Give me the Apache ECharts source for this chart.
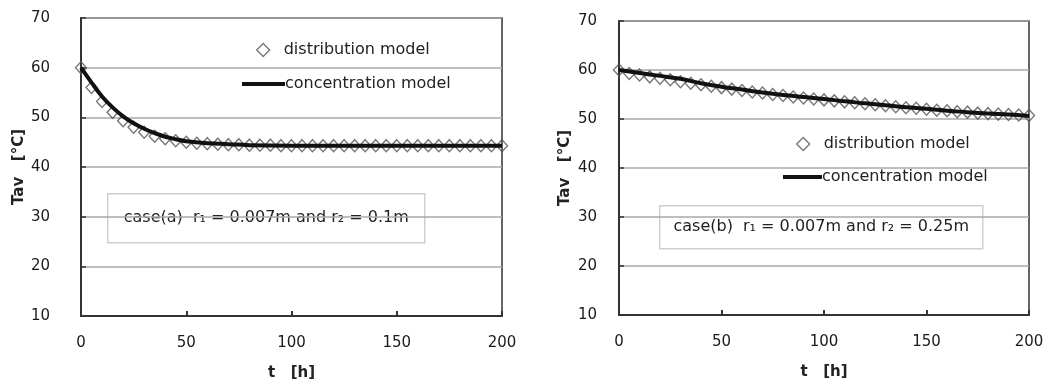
<!DOCTYPE html>
<html>
<head>
<meta charset="utf-8">
<script src="https://cdn.jsdelivr.net/npm/echarts@6/dist/echarts.min.js"></script>
<style>
  html, body { margin: 0; padding: 0; background: #fff; }
  #chart { width: 1056px; height: 389px; }
</style>
</head>
<body>
<div id="chart"></div>
<script>
// time points of the distribution model markers (h)
var tMarks = [0, 5, 10, 15, 20, 25, 30, 35, 40, 45, 50, 55, 60, 65, 70, 75, 80, 85, 90, 95,
  100, 105, 110, 115, 120, 125, 130, 135, 140, 145, 150, 155, 160, 165, 170, 175, 180, 185, 190, 195, 200];

// case (a): distribution model (markers)
var distA = [60.0, 56.0, 53.2, 51.0, 49.3, 48.0, 47.0, 46.2, 45.7, 45.3, 45.0, 44.8, 44.7, 44.6, 44.5, 44.5, 44.4, 44.4, 44.4, 44.3,
  44.3, 44.3, 44.3, 44.3, 44.3, 44.3, 44.3, 44.3, 44.3, 44.3, 44.3, 44.3, 44.3, 44.3, 44.3, 44.3, 44.3, 44.3, 44.3, 44.3, 44.3];
// case (a): concentration model (line)
var tLineA = [0, 5, 10, 15, 20, 25, 30, 35, 40, 45, 50, 60, 70, 80, 100, 150, 200];
var concA = [60.0, 57.0, 54.2, 52.0, 50.2, 48.8, 47.7, 46.8, 46.1, 45.6, 45.2, 44.8, 44.6, 44.4, 44.3, 44.3, 44.3];

// case (b): distribution model (markers)
var distB = [60.0, 59.3, 59.0, 58.6, 58.3, 58.0, 57.6, 57.3, 57.0, 56.7, 56.4, 56.1, 55.8, 55.5, 55.3, 55.0, 54.8, 54.5, 54.3, 54.1,
  53.9, 53.7, 53.5, 53.3, 53.1, 52.9, 52.7, 52.5, 52.3, 52.2, 52.0, 51.8, 51.7, 51.5, 51.4, 51.2, 51.1, 51.0, 50.9, 50.8, 50.7];
// case (b): concentration model (line)
var tLineB = [0, 10, 20, 30, 40, 50, 60, 70, 80, 90, 100, 110, 120, 130, 140, 150, 160, 170, 180, 190, 200];
var concB = [60.0, 59.4, 58.8, 58.2, 57.3, 56.6, 56.0, 55.4, 54.9, 54.5, 54.1, 53.6, 53.2, 52.8, 52.4, 52.1, 51.7, 51.4, 51.1, 50.9, 50.6];

var xTicks = [0, 50, 100, 150, 200];
var yTicks = [10, 20, 30, 40, 50, 60, 70];

function pairs(xs, ys) {
  return xs.map(function (x, i) { return [x, ys[i]]; });
}

var FONT = 'DejaVu Sans';
var chart = echarts.init(document.getElementById('chart'));

function xAxis(idx) {
  return {
    gridIndex: idx,
    type: 'value',
    min: xTicks[0], max: xTicks[xTicks.length - 1], interval: 50,
    name: 't   [h]',
    nameLocation: 'middle',
    nameGap: 50,
    nameTextStyle: { fontFamily: FONT, fontSize: 15, fontWeight: 'bold', color: '#222' },
    axisLine: { lineStyle: { color: '#333', width: 2 } },
    axisTick: { inside: true, length: 5, lineStyle: { color: '#333', width: 2 } },
    axisLabel: { margin: 20, fontFamily: FONT, fontSize: 15, color: '#1a1a1a' },
    splitLine: { show: false }
  };
}

function yAxis(idx, margin) {
  return {
    gridIndex: idx,
    type: 'value',
    min: yTicks[0], max: yTicks[yTicks.length - 1], interval: 10,
    name: 'Tav   [°C]',
    nameLocation: 'middle',
    nameGap: 46,
    nameRotate: 90,
    nameTextStyle: { fontFamily: FONT, fontSize: 15, fontWeight: 'bold', color: '#222' },
    axisLine: { show: true, lineStyle: { color: '#333', width: 2 } },
    axisTick: { inside: true, length: 5, lineStyle: { color: '#333', width: 1.5 } },
    axisLabel: { margin: margin, fontFamily: FONT, fontSize: 15, color: '#1a1a1a' },
    splitLine: { show: true, lineStyle: { color: '#a8a8a8', width: 1.5 } }
  };
}

var markerStyle = { color: 'rgba(255,255,255,0)', borderColor: '#555', borderWidth: 1.4 };

function distSeries(idx, data) {
  return {
    name: 'distribution model',
    type: 'scatter',
    xAxisIndex: idx, yAxisIndex: idx,
    symbol: 'diamond',
    symbolSize: [11, 12],
    itemStyle: markerStyle,
    data: data,
    z: 2
  };
}

function concSeries(idx, data) {
  return {
    name: 'concentration model',
    type: 'line',
    xAxisIndex: idx, yAxisIndex: idx,
    smooth: 0.4,
    showSymbol: false,
    lineStyle: { color: '#111', width: 4 },
    itemStyle: { color: '#111' },
    data: data,
    z: 3
  };
}

function legends(dLeft, dTop, lLeft, lTop, lWidth) {
  var ts = { fontFamily: FONT, fontSize: 16, color: '#222' };
  return [{
    left: dLeft, top: dTop,
    itemWidth: 13, itemHeight: 13,
    selectedMode: false,
    data: [{ name: 'distribution model', icon: 'diamond',
      itemStyle: { color: '#fff', borderColor: '#555', borderWidth: 1.4 } }],
    textStyle: Object.assign({ padding: [0, 0, 0, 9] }, ts)
  }, {
    left: lLeft, top: lTop,
    itemWidth: lWidth, itemHeight: 4,
    selectedMode: false,
    data: [{ name: 'concentration model', icon: 'rect', itemStyle: { color: '#111' } }],
    textStyle: Object.assign({ padding: [0, 0, 0, -5] }, ts)
  }];
}

function noteBox(x, y, w, h, text) {
  return {
    type: 'group',
    left: x, top: y,
    children: [{
      type: 'rect',
      shape: { x: 0, y: 0, width: w, height: h },
      style: { fill: '#fff', stroke: '#cfcfcf', lineWidth: 1.5 }
    }, {
      type: 'text',
      x: w / 2, y: h / 2,
      style: {
        text: text,
        fontFamily: FONT, fontSize: 16, fill: '#222',
        align: 'center', verticalAlign: 'middle'
      }
    }]
  };
}

chart.setOption({
  animation: false,
  backgroundColor: '#fff',
  grid: [
    { left: 81, top: 18, width: 421, height: 298, show: true, borderColor: '#333', borderWidth: 1.5 },
    { left: 619, top: 21, width: 410, height: 294, show: true, borderColor: '#333', borderWidth: 1.5 }
  ],
  xAxis: [xAxis(0), xAxis(1)],
  yAxis: [yAxis(0, 31), yAxis(1, 22)],
  legend: legends(251, 37, 237, 71, 43).concat(legends(791, 131, 778, 164, 39)),
  graphic: [
    noteBox(107, 193, 317, 49, 'case(a)  r\u2081 = 0.007m and r\u2082 = 0.1m'),
    noteBox(659, 205, 323, 43, 'case(b)  r\u2081 = 0.007m and r\u2082 = 0.25m')
  ],
  series: [
    distSeries(0, pairs(tMarks, distA)),
    concSeries(0, pairs(tLineA, concA)),
    distSeries(1, pairs(tMarks, distB)),
    concSeries(1, pairs(tLineB, concB))
  ]
});
</script>
</body>
</html>
